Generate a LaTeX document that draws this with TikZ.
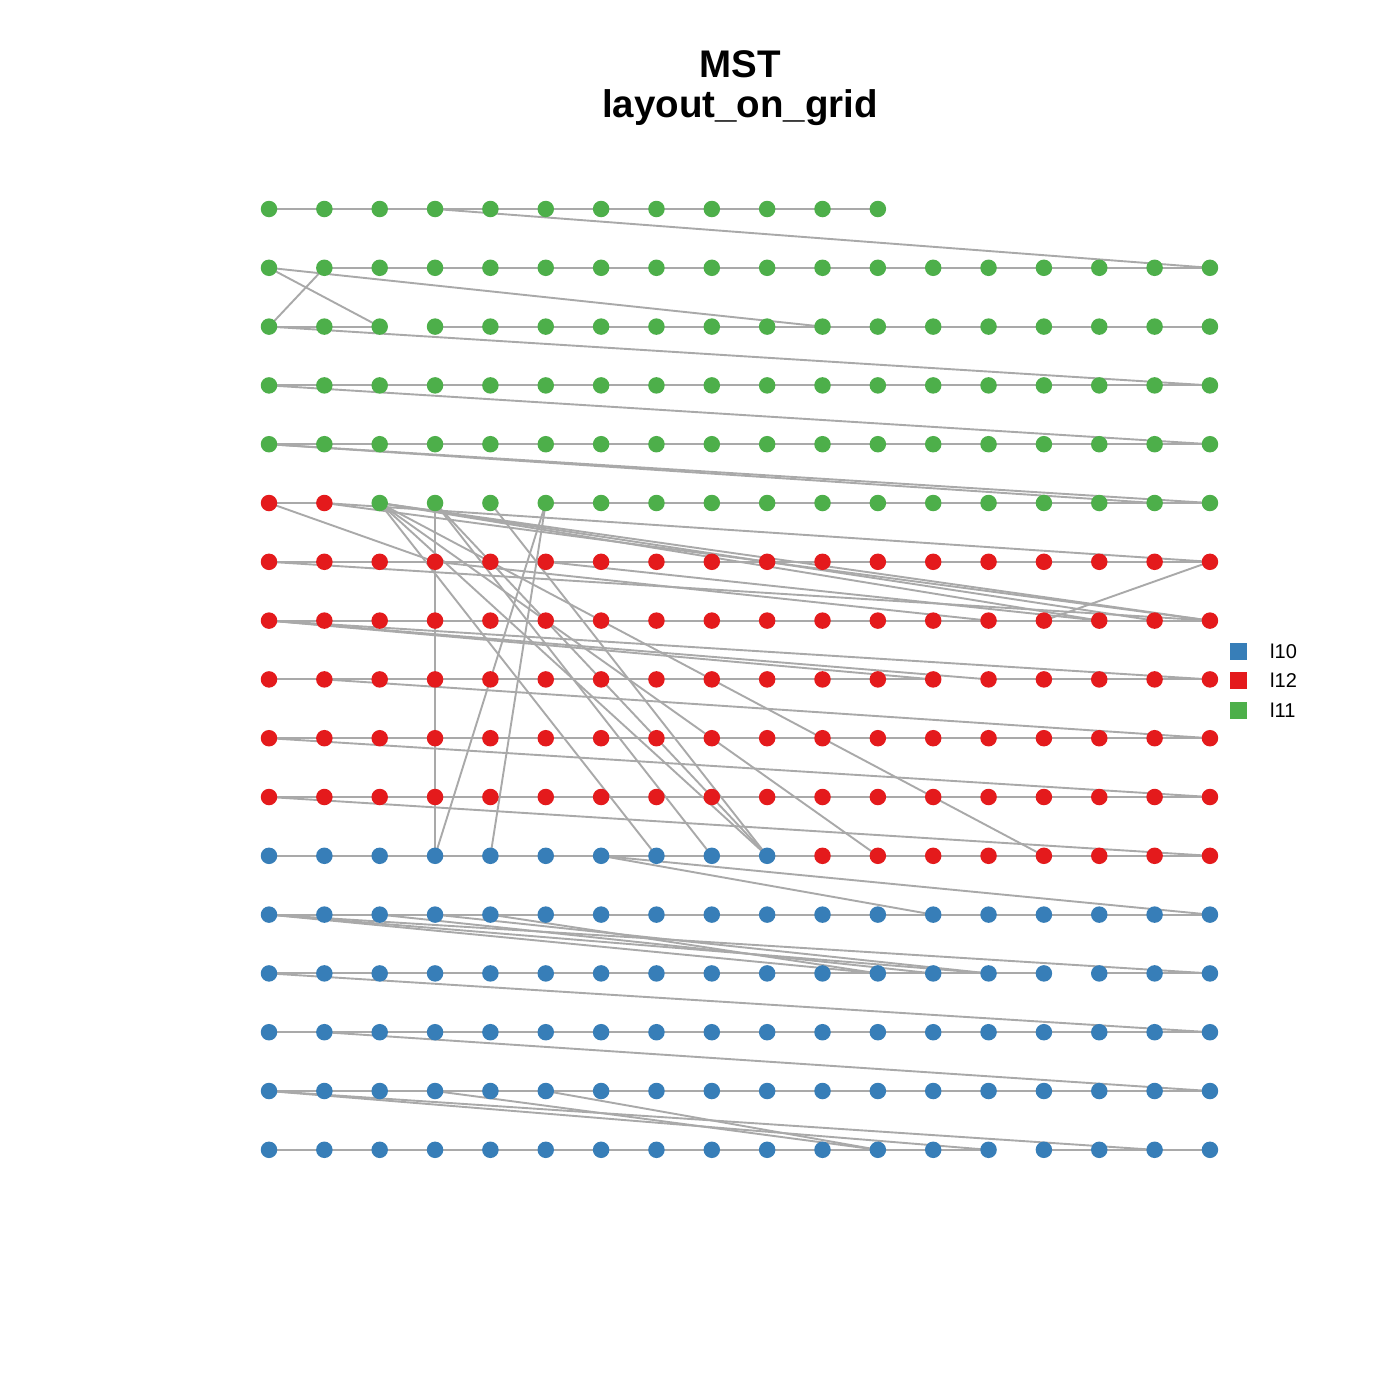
\documentclass[tikz,border=0pt]{standalone}
\usepackage{fontspec}
\setmainfont{Liberation Sans}
\definecolor{gA}{HTML}{4DAF4A}
\definecolor{rA}{HTML}{E41A1C}
\definecolor{bA}{HTML}{377EB8}
\definecolor{edgegray}{HTML}{A9A9A9}
\pgfdeclarelayer{edges}
\pgfsetlayers{edges,main}
\begin{document}
\begin{tikzpicture}[x=1pt,y=-1pt,
  dot/.style={circle,inner sep=0pt,minimum size=16.5pt,draw=none},
  link/.style={draw=edgegray,line width=1.9pt},
  keybox/.style={rectangle,inner sep=0pt,minimum size=17pt,draw=none},
  keytext/.style={anchor=west,font=\fontsize{20}{22}\selectfont,inner sep=0pt},
  ttl/.style={anchor=base,font=\bfseries\fontsize{38.5}{40}\selectfont,inner sep=0pt}]
\useasboundingbox (0,0) rectangle (1400,1400);
% title
\node[ttl] (t1) at (740,77) {MST};
\node[ttl] (t2) at (740,117) {layout\_on\_grid};
% nodes
\foreach \c in {0,...,11}{
  \node[dot,fill=gA] (n0-\c) at ({269+55.35*\c},209) {};
}
\foreach \r in {1,...,16}{
  \foreach \c in {0,...,17}{
    \def\col{gA}
    \ifnum\r>4 \def\col{rA}\fi
    \ifnum\r=5 \ifnum\c>1 \def\col{gA}\fi\fi
    \ifnum\r=11 \ifnum\c<10 \def\col{bA}\fi\fi
    \ifnum\r>11 \def\col{bA}\fi
    \node[dot,fill=\col] (n\r-\c) at ({269+55.35*\c},{209+58.8*\r}) {};
  }
}
% edges
\begin{pgfonlayer}{edges}
\fill[white] (0,0) rectangle (1400,1400);
% horizontal runs
\foreach \r/\s/\e in {0/0/11,1/1/17,2/0/2,2/3/17,3/0/17,4/0/17,5/0/1,5/5/17,
  6/0/17,7/0/17,8/0/12,8/13/17,9/0/17,10/0/17,11/0/17,12/0/17,
  13/0/14,13/15/17,14/0/17,15/0/17,16/0/13,16/14/17}{
  \draw[link] (n\r-\s.center) -- (n\r-\e.center);
}
% long links
\foreach \a/\b in {0-3/1-17,1-0/2-2,1-0/2-10,1-1/2-0,2-0/3-17,3-0/4-17,
  4-0/5-17,4-0/5-16,5-0/6-3,5-1/6-17,5-1/7-17,5-2/7-17,5-2/7-16,5-2/7-15,
  6-3/7-13,6-5/7-15,6-0/7-17,7-14/6-17,
  5-3/11-3,5-5/11-3,5-5/11-4,5-4/11-9,5-2/11-7,5-2/11-9,5-3/11-8,5-3/11-9,
  5-2/11-14,5-2/11-11,7-0/8-17,7-0/8-13,7-0/8-12,8-1/9-17,9-0/10-17,10-0/11-17,
  11-6/12-12,11-6/12-17,12-0/13-11,12-0/13-13,12-0/13-17,12-2/13-12,12-3/13-13,
  12-4/13-11,13-0/14-17,14-1/15-17,15-0/16-13,15-0/16-16,15-3/16-11,15-5/16-11}{
  \draw[link] (n\a.center) -- (n\b.center);
}
\end{pgfonlayer}
% legend
\node[keybox,fill=bA] (k1) at (1238,651) {};
\node[keybox,fill=rA] (k2) at (1238,680) {};
\node[keybox,fill=gA] (k3) at (1238,710) {};
\node[keytext] (l1) at (1270,651) {l10};
\node[keytext] (l2) at (1270,680) {l12};
\node[keytext] (l3) at (1270,710) {l11};
\end{tikzpicture}
\end{document}
